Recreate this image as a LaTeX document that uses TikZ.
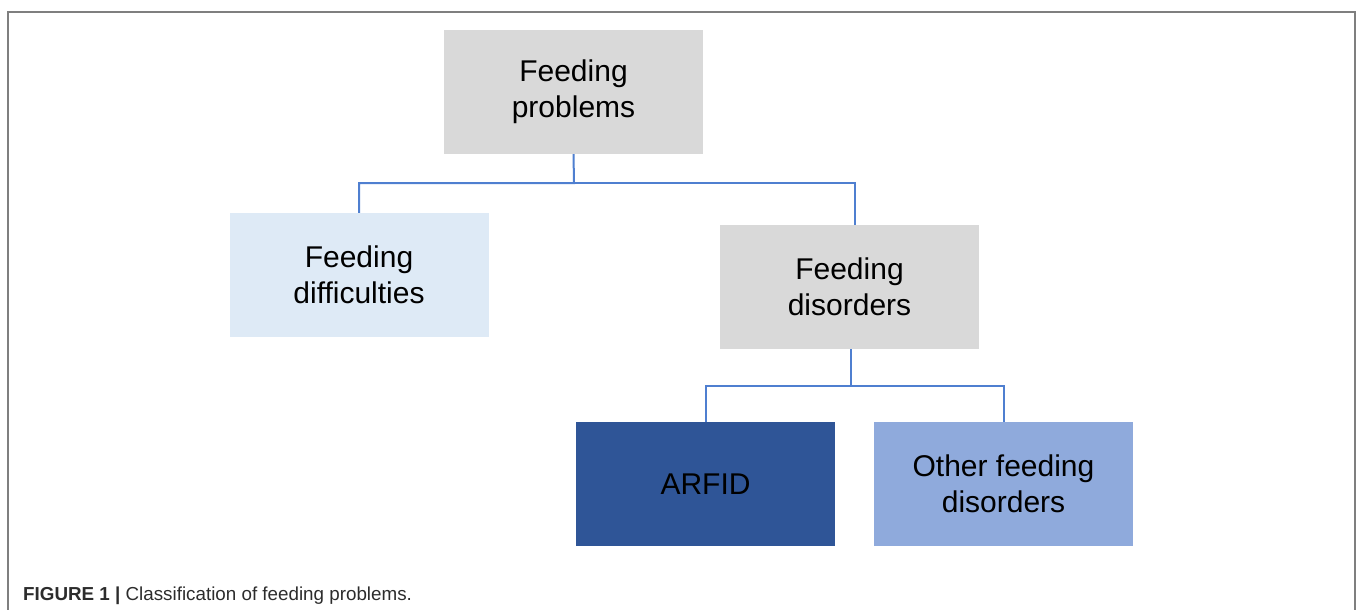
\documentclass[tikz,border=0pt]{standalone}
\usepackage{fontspec}
\setmainfont{Liberation Sans}
\usepackage{xcolor}
\usepackage{tikz}
\usetikzlibrary{positioning, calc}
\definecolor{boxgray}{HTML}{D9D9D9}
\definecolor{paleblue}{HTML}{DEEAF6}
\definecolor{deepblue}{HTML}{2F5597}
\definecolor{midblue}{HTML}{8FAADC}
\definecolor{linkblue}{HTML}{4F7FD0}
\definecolor{framegray}{HTML}{7F7F7F}
\definecolor{captext}{HTML}{2C2C2C}

\begin{document}
\begin{tikzpicture}[x=1pt, y=-1pt,
    cat/.style={minimum width=259pt, minimum height=124pt, inner sep=0pt,
        align=center, text=black, font=\fontsize{30}{36}\selectfont},
    link/.style={draw=linkblue, line width=2pt},
    frame/.style={draw=framegray, line width=2pt},
    caption/.style={anchor=base west, inner sep=0pt, text=captext,
        font=\fontsize{18.8}{22}\selectfont},
]
\useasboundingbox (0,0) rectangle (1357,610);
% outer frame (open at the bottom)
\draw[frame] (8,610) -- (8,12) -- (1355,12) -- (1355,610);
% boxes
\node[cat, fill=boxgray]  (prob)  at (573.5,92)  {Feeding\\problems};
\node[cat, fill=paleblue] (diff)  at (359,275)   {Feeding\\difficulties};
\node[cat, fill=boxgray]  (dis)   at (849.5,287) {Feeding\\disorders};
\node[cat, fill=deepblue] (arfid) at (705.5,484) {ARFID};
\node[cat, fill=midblue]  (other) at (1003.5,484) {Other feeding\\disorders};
% tree links
\coordinate (j1) at (574,183);
\coordinate (j2) at (851,386);
\draw[link] (prob.south) -- (j1) -| (diff.north);
\draw[link] (j1) -| ([xshift=5.5pt]dis.north);
\draw[link] (dis.south) ++(1.5,0) coordinate (d2) -- (j2) -| (arfid.north);
\draw[link] (j2) -| (other.north);
% caption
\node[caption] (cap) at (23,600) {\textbf{FIGURE 1} \textbf{|} Classification of feeding problems.};
\end{tikzpicture}
\end{document}
